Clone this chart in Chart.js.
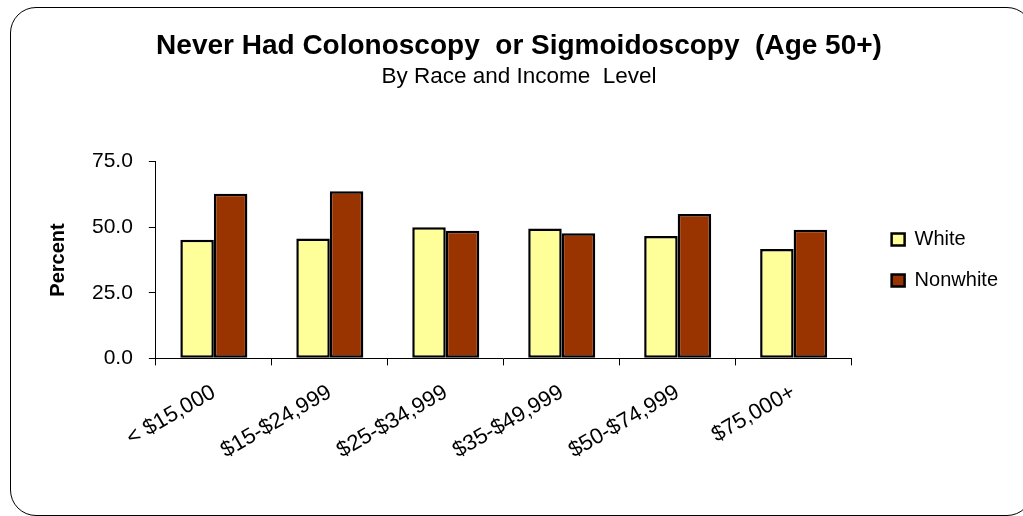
<!DOCTYPE html>
<html>
<head>
<meta charset="utf-8">
<script src="https://cdn.jsdelivr.net/npm/chart.js@4.4.1/dist/chart.umd.min.js"></script>
<style>
    html, body { margin: 0; padding: 0; background: #fff; overflow: hidden; }
    #Frame { position: absolute; left: 10px; top: 7px; width: 1023px; height: 509px; box-sizing: border-box; border: 1.5px solid #000; border-radius: 26px; }
    #ChartBox { position: absolute; left: 13px; top: 0; width: 1010px; height: 516px; }
</style>
</head>
<body>
<div id="Frame"></div>
<div id="ChartBox"><canvas id="ChartCanvas" width="1010" height="516"></canvas></div>
<script>
// Chart data
const categories = ['< $15,000', '$15-$24,999', '$25-$34,999', '$35-$49,999', '$50-$74,999', '$75,000+'];
const whiteValues = [45.2, 45.7, 50.0, 49.5, 46.6, 41.7];
const nonwhiteValues = [62.7, 63.7, 48.6, 47.7, 55.0, 49.0];
const yTickValues = [0, 25, 50, 75];

const titleText = 'Never Had Colonoscopy  or Sigmoidoscopy  (Age 50+)';
const subtitleText = 'By Race and Income  Level';
const fontFamily = '"Liberation Sans", Arial, sans-serif';

Initialize();

function Initialize()
{
    const ctx = document.getElementById('ChartCanvas').getContext('2d');

    const chart = new Chart(ctx, {
        type: 'bar',
        data: {
            labels: categories,
            datasets: [{
                label: 'White',
                data: whiteValues,
                backgroundColor: '#FFFF99',
                borderColor: '#000',
                borderWidth: 2.5,
                borderSkipped: false,
                barPercentage: 1.0,
                categoryPercentage: 0.578
            }, {
                label: 'Nonwhite',
                data: nonwhiteValues,
                backgroundColor: '#993300',
                borderColor: '#000',
                borderWidth: 2.5,
                borderSkipped: false,
                barPercentage: 1.0,
                categoryPercentage: 0.578
            }]
        },
        options: {
            responsive: false,
            animation: false,
            layout: {
                padding: { left: 17, right: 15, top: 0, bottom: 38 }
            },
            plugins: {
                title: {
                    display: true,
                    text: titleText,
                    color: '#000',
                    font: { family: fontFamily, size: 28, weight: 'bold' },
                    padding: { top: 29, bottom: 0 }
                },
                subtitle: {
                    display: true,
                    text: subtitleText,
                    color: '#000',
                    font: { family: fontFamily, size: 22.5 },
                    padding: { top: 1, bottom: 71 }
                },
                legend: {
                    position: 'right',
                    align: 'center',
                    fullSize: false,
                    labels: {
                        boxWidth: 13,
                        boxHeight: 12,
                        padding: 21,
                        color: '#000',
                        font: { family: fontFamily, size: 20 }
                    }
                },
                tooltip: { enabled: false }
            },
            scales: {
                x: {
                    grid: { drawOnChartArea: false, tickLength: 7, color: '#000', offset: true },
                    border: { color: '#000', width: 1 },
                    ticks: {
                        autoSkip: false,
                        minRotation: 30,
                        maxRotation: 30,
                        padding: 14,
                        color: '#000',
                        font: { family: fontFamily, size: 22 }
                    }
                },
                y: {
                    min: 0,
                    max: 75,
                    afterBuildTicks: scale => { scale.ticks = yTickValues.map(v => ({ value: v })); },
                    grid: { drawOnChartArea: false, tickLength: 7, color: '#000' },
                    border: { color: '#000', width: 1 },
                    ticks: {
                        padding: 16,
                        color: '#000',
                        font: { family: fontFamily, size: 21 },
                        callback: value => Number(value).toFixed(1)
                    },
                    title: {
                        display: true,
                        text: 'Percent',
                        color: '#000',
                        font: { family: fontFamily, size: 20, weight: 'bold' },
                        padding: { top: 16, bottom: 6 }
                    }
                },
                // empty spacer so the legend sits a bit away from the plot
                gap: {
                    type: 'linear',
                    position: 'right',
                    grid: { display: false },
                    border: { display: false },
                    ticks: { display: false },
                    afterFit: scale => { scale.width = 19; }
                }
            }
        }
    });
}
</script>
</body>
</html>
